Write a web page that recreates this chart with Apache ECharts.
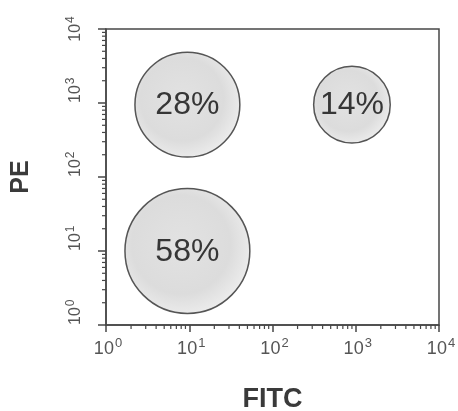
<!DOCTYPE html>
<html><head><meta charset="utf-8">
<script src="https://cdn.jsdelivr.net/npm/echarts@6/dist/echarts.min.js"></script>
<style>html,body{margin:0;padding:0;background:#fff}#c{width:458px;height:411px}</style>
</head><body><div id="c"></div>
<script>
// Gates: population percentages and their centers (FITC, PE) and radius in decades
var gateLabels = ['28%', '14%', '58%'];
var gateFITC = [9.5, 900, 9.5];
var gatePE = [950, 950, 10];
var gateRadiusDecades = [0.63, 0.46, 0.75];
// Axis decade exponents
var tickExponents = [0, 1, 2, 3, 4];
var minorMultipliers = [2, 3, 4, 5, 6, 7, 8, 9];

var minorVals = [];
for (var d = 0; d < tickExponents.length - 1; d++) {
  for (var m = 0; m < minorMultipliers.length; m++) {
    minorVals.push(minorMultipliers[m] * Math.pow(10, tickExponents[d]));
  }
}
var axisMin = Math.pow(10, tickExponents[0]);
var axisMax = Math.pow(10, tickExponents[tickExponents.length - 1]);

var gateData = gateLabels.map(function (l, i) { return [gateFITC[i], gatePE[i], gateRadiusDecades[i], l]; });

var axisColor = '#474747';
var richX = {
  b: { fontSize: 18, color: '#555', fontFamily: 'Liberation Sans', padding: [0, 0, 0, 4] },
  s: { fontSize: 13, color: '#555', fontFamily: 'Liberation Sans', padding: [0, 0, 11, 1] }
};
var richY = {
  b: { fontSize: 16, color: '#555', fontFamily: 'Liberation Sans' },
  s: { fontSize: 12, color: '#555', fontFamily: 'Liberation Sans', padding: [0, 0, 10, 1] }
};
function fmt(v) {
  var e = Math.round(Math.log10(v));
  return '{b|10}{s|' + e + '}';
}

var chart = echarts.init(document.getElementById('c'));
chart.setOption({
  animation: false,
  grid: { left: 106, right: 19, top: 29, bottom: 86, outerBoundsMode: 'none', containLabel: false,
    show: true, borderColor: axisColor, borderWidth: 1.5, backgroundColor: 'transparent' },
  xAxis: {
    type: 'log', logBase: 10, min: axisMin, max: axisMax,
    name: 'FITC', nameLocation: 'middle', nameGap: 61,
    nameTextStyle: { fontSize: 27, fontWeight: 'bold', color: '#3a3a3a', fontFamily: 'Liberation Sans' },
    axisLine: { show: true, lineStyle: { color: axisColor, width: 1.5 } },
    axisTick: { show: true, inside: false, length: 7, lineStyle: { color: axisColor, width: 1.5 } },
    splitLine: { show: false },
    axisLabel: { formatter: fmt, rich: richX, margin: 12 }
  },
  yAxis: {
    type: 'log', logBase: 10, min: axisMin, max: axisMax,
    name: 'PE', nameLocation: 'middle', nameGap: 72,
    nameTextStyle: { fontSize: 25, fontWeight: 'bold', color: '#3a3a3a', fontFamily: 'Liberation Sans' },
    axisLine: { show: true, lineStyle: { color: axisColor, width: 1.5 } },
    axisTick: { show: true, inside: false, length: 8, lineStyle: { color: axisColor, width: 1.5 } },
    splitLine: { show: false },
    axisLabel: { formatter: fmt, rich: richY, rotate: 90, align: 'left', verticalAlign: 'middle', margin: 30,
      alignMaxLabel: 'center' }
  },
  series: [
    {
      type: 'custom', clip: false, silent: true,
      data: minorVals.map(function (v) { return [v, axisMin]; }),
      renderItem: function (params, api) {
        var p = api.coord([api.value(0), api.value(1)]);
        return { type: 'line', shape: { x1: p[0], y1: p[1], x2: p[0], y2: p[1] + 4 }, style: { stroke: axisColor, lineWidth: 1.2 } };
      }
    },
    {
      type: 'custom', clip: false, silent: true,
      data: minorVals.map(function (v) { return [axisMin, v]; }),
      renderItem: function (params, api) {
        var p = api.coord([api.value(0), api.value(1)]);
        return { type: 'line', shape: { x1: p[0] - 4, y1: p[1], x2: p[0], y2: p[1] }, style: { stroke: axisColor, lineWidth: 1.2 } };
      }
    },
    {
      type: 'custom', clip: false, silent: true,
      data: gateData,
      renderItem: function (params, api) {
        var x = api.value(0), y = api.value(1), r = api.value(2);
        var c = api.coord([x, y]);
        var e = api.coord([x * Math.pow(10, r), y]);
        var rp = e[0] - c[0];
        return {
          type: 'group',
          children: [
            { type: 'circle', shape: { cx: c[0], cy: c[1], r: rp },
              style: { fill: { type: 'radial', x: 0.45, y: 0.45, r: 0.6, colorStops: [
                { offset: 0, color: '#e2e2e2' }, { offset: 0.65, color: '#dcdcdc' }, { offset: 1, color: '#efefef' }] },
                stroke: '#555', lineWidth: 1.5 } },
            { type: 'text', style: { x: c[0], y: c[1] + 1, text: gateLabels[params.dataIndex], align: 'center', verticalAlign: 'middle',
                fontSize: 32, fill: '#363636', fontFamily: 'Liberation Sans' } }
          ]
        };
      }
    }
  ]
});
</script></body></html>
